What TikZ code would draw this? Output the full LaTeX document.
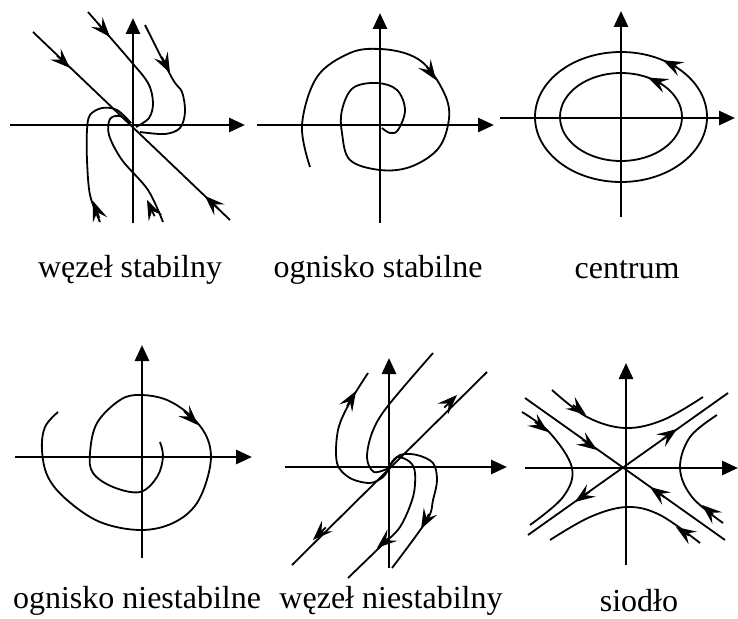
\documentclass[tikz,border=0pt]{standalone}
\usepackage{fontspec}
\setmainfont{Liberation Serif}
\usetikzlibrary{arrows.meta}
\tikzset{
  fl/.tip={Stealth[length=20pt,width=15pt,inset=8pt]},
  axis/.style={line width=2.8pt,-{Triangle[length=16pt,width=14pt]}},
  traj/.style={line width=1.8pt},
  tipr/.style={line width=1.8pt,-{fl}},
  lab/.style={font=\fontsize{32}{38}\selectfont, inner sep=0pt}
}
\begin{document}
\begin{tikzpicture}[x=1pt,y=-1pt]
\useasboundingbox (0,0) rectangle (738,618);
% ---------- panel 1: wezel stabilny ----------
\draw[axis] (10,125) -- (245,125);
\draw[axis] (133,223) -- (133,18);
\draw[traj] (33,32) -- (230,220);
\draw[traj] plot[smooth,tension=0.55] coordinates {(88,12) (128,58) (148,83) (153,103) (149,118) (136,127)};
\draw[traj] plot[smooth,tension=0.55] coordinates {(145,25) (172,78) (182,92) (185,112) (180,128) (165,134) (140,132)};
\draw[traj] plot[smooth,tension=0.55] coordinates {(100,222) (90,195) (87,160) (87,130) (90,115) (102,108) (117,110) (131,123)};
\draw[traj] plot[smooth,tension=0.55] coordinates {(163,222) (148,190) (122,160) (109,135) (110,119) (120,116) (131,123)};
\draw[tipr] (57,55.6) -- (70,68);
\draw[tipr] (218,208.4) -- (205,196);
\draw[tipr] (98.1,23.5) -- (110,37);
\draw[tipr] (161.9,57) -- (170,73);
\draw[tipr] (99.3,217.9) -- (93,201);
\draw[tipr] (154.6,216.2) -- (147,200);
\node[lab] (l1) at (130,270) {węzeł stabilny};
% ---------- panel 2: ognisko stabilne ----------
\draw[axis] (257,125) -- (494,125);
\draw[axis] (380,223) -- (380,13);
\draw[traj] plot[smooth,tension=0.6] coordinates {(310,167) (302,125) (317,77) (350,53) (380,49) (410,55) (430,70) (447,100) (448,125) (437,150) (410,167) (380,170) (350,160) (342,133) (342,110) (353,88) (377,83) (397,90) (405,110) (398,130) (390,133) (382,128)};
\draw[tipr] (426.5,66.5) -- (436,80);
\node[lab] (l2) at (378,270) {ognisko stabilne};
% ---------- panel 3: centrum ----------
\draw[axis] (500,118) -- (735,118);
\draw[axis] (621,217) -- (621,11);
\draw[traj] (621,117) ellipse[x radius=86,y radius=65];
\draw[traj] (621,117) ellipse[x radius=61,y radius=44];
\draw[tipr] (677,67) -- (663,60.3);
\draw[tipr] (662,84) -- (648,77.6);
\node[lab] (l3) at (627,270) {centrum};
% ---------- panel 4: ognisko niestabilne ----------
\draw[axis] (15,457) -- (252,457);
\draw[axis] (142,558) -- (142,345);
\draw[traj] plot[smooth,tension=0.6] coordinates {(160,442) (163,457) (157,477) (140,492) (113,487) (93,473) (90,453) (97,423) (120,400) (140,395) (167,400) (192,417) (208,440) (210,467) (197,503) (173,523) (140,530) (100,522) (67,500) (48,477) (42,450) (45,427) (58,412)};
\draw[tipr] (184,411) -- (198,425);
\node[lab] (l4) at (137,601) {ognisko niestabilne};
% ---------- panel 5: wezel niestabilny ----------
\draw[axis] (285,467) -- (507,467);
\draw[axis] (389,568) -- (389,358);
\draw[traj] (292,565) -- (487,372);
\draw[traj] plot[smooth,tension=0.55] coordinates {(433,353) (387,407) (372,433) (367,458) (374,472) (389,468)};
\draw[traj] plot[smooth,tension=0.55] coordinates {(389,468) (383,477) (370,483) (350,478) (337,463) (338,430) (350,402) (368,373)};
\draw[traj] plot[smooth,tension=0.55] coordinates {(389,467) (397,457) (410,462) (415,473) (413,497) (400,527) (380,547) (348,578)};
\draw[traj] plot[smooth,tension=0.55] coordinates {(389,467) (400,455) (417,455) (433,463) (437,480) (433,500) (427,520) (392,568)};
\draw[tipr] (444.2,407.6) -- (457,395);
\draw[tipr] (325.8,527.4) -- (313,540);
\draw[tipr] (347,406) -- (356,391);
\draw[tipr] (390,537) -- (377,548);
\draw[tipr] (429,514) -- (421,529);
\node[lab] (l5) at (391,601) {węzeł niestabilny};
% ---------- panel 6: siodlo ----------
\draw[axis] (525,468) -- (738,468);
\draw[axis] (626,565) -- (626,363);
\draw[traj] (525,398) -- (725,540);
\draw[traj] (528,535) -- (728,393);
\draw[traj] plot[smooth,tension=0.6] coordinates {(552,390) (587,417) (625,428) (663,420) (703,397)};
\draw[traj] plot[smooth,tension=0.6] coordinates {(550,540) (590,517) (627,507) (660,515) (700,543)};
\draw[traj] plot[smooth,tension=0.6] coordinates {(522,412) (550,433) (572,468) (563,497) (530,525)};
\draw[traj] plot[smooth,tension=0.6] coordinates {(717,415) (690,437) (680,468) (692,497) (723,523)};
\draw[tipr] (582.3,439.6) -- (597,450);
\draw[tipr] (664.7,497.4) -- (650,487);
\draw[tipr] (662.3,439.4) -- (677,429);
\draw[tipr] (589.7,491.6) -- (575,502);
\draw[tipr] (573,405) -- (586,415);
\draw[tipr] (689,535.5) -- (676,527);
\draw[tipr] (535,422) -- (548,432);
\draw[tipr] (713,514.4) -- (702,505);
\node[lab] (l6) at (639,601) {siodło};
\end{tikzpicture}
\end{document}
